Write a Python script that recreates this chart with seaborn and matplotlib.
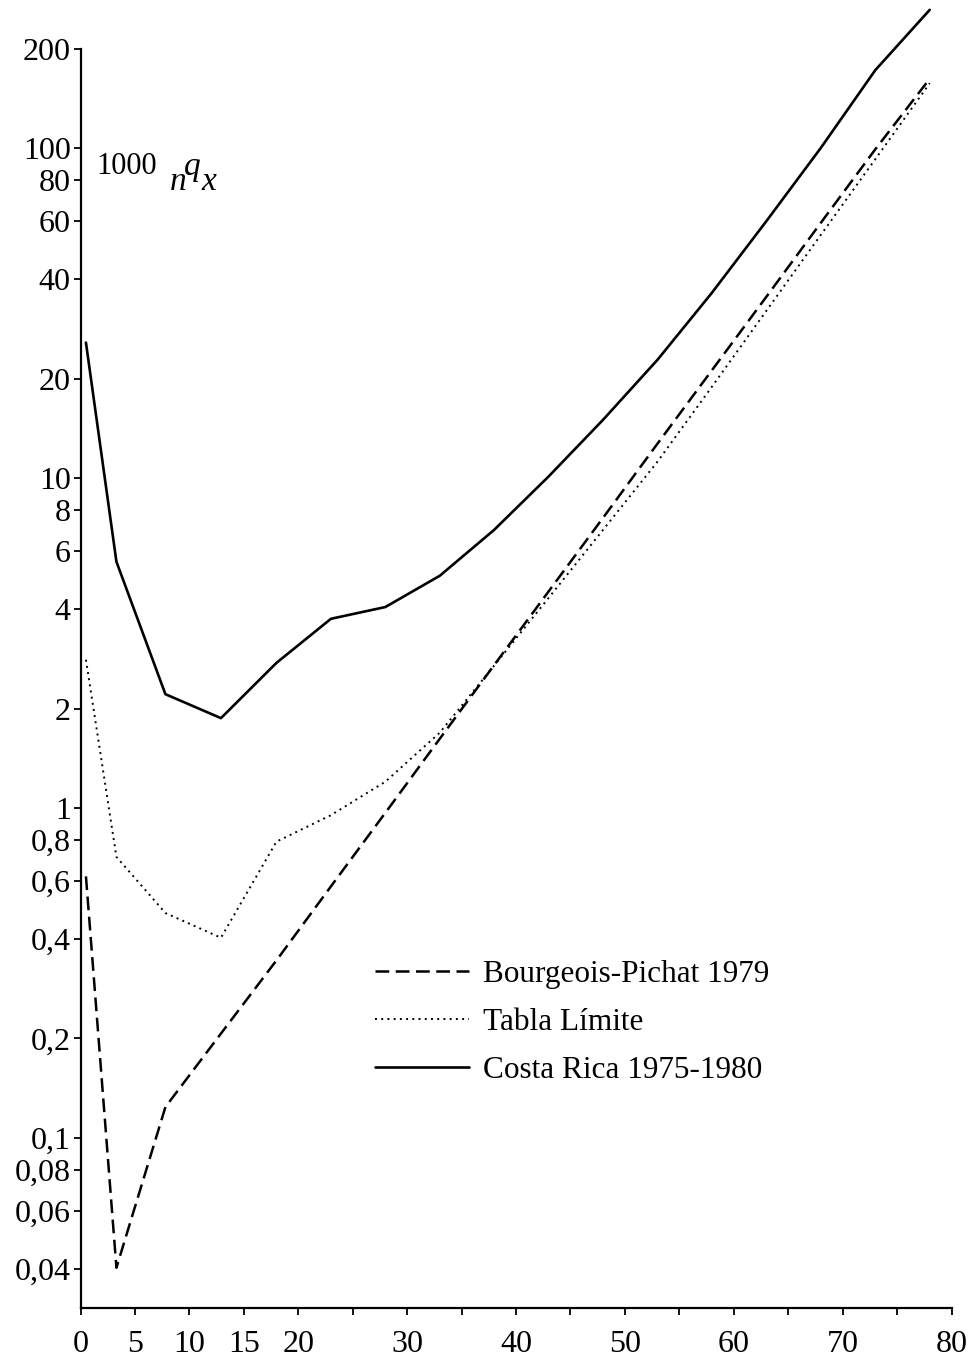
import pandas as pd
import matplotlib
matplotlib.use("Agg")
import matplotlib.pyplot as plt
from matplotlib.ticker import FixedLocator, NullLocator
import seaborn as sns

# Data (1000 nqx by age, log scale)
ages = [0.5, 3.3, 7.8, 12.9, 18, 23, 28, 33, 38, 43, 48, 53, 58, 63, 68, 73, 78]
bourgeois_pichat = [0.62, 0.0404, 0.124, 0.207, 0.345, 0.578, 0.966, 1.62, 2.71,
                    4.53, 7.57, 12.7, 21.2, 35.4, 59.3, 99, 162]
tabla_limite = [2.81, 0.71, 0.48, 0.404, 0.79, 0.95, 1.2, 1.69, 2.7,
                4.33, 6.96, 11.2, 18.9, 32.1, 54.5, 92.4, 157]
costa_rica = [25.7, 5.57, 2.21, 1.87, 2.75, 3.74, 4.06, 5.05, 6.96,
              10.1, 15.0, 22.8, 36.4, 60, 100, 172, 262]

series_names = ["Bourgeois-Pichat 1979", "Tabla Límite", "Costa Rica 1975-1980"]

x_ticks = list(range(0, 85, 5))
x_labels = ["0", "5", "10", "15", "20", "", "30", "", "40", "", "50", "",
            "60", "", "70", "", "80"]
y_ticks = [0.04, 0.06, 0.08, 0.1, 0.2, 0.4, 0.6, 0.8, 1, 2, 4, 6, 8, 10,
           20, 40, 60, 80, 100, 200]
y_labels = ["0,04", "0,06", "0,08", "0,1", "0,2", "0,4", "0,6", "0,8", "1",
            "2", "4", "6", "8", "10", "20", "40", "60", "80", "100", "200"]


def main():
    sns.set_style("ticks")
    plt.rcParams["font.family"] = ["Liberation Serif", "DejaVu Serif"]
    plt.rcParams["text.color"] = "black"

    W, H = 971, 1365
    fig = plt.figure(figsize=(W / 100, H / 100), dpi=100)
    ax = fig.add_axes([80.5 / W, 57 / H, 871 / W, 1303 / H])

    df = pd.DataFrame({"age": ages, "bp": bourgeois_pichat,
                       "tl": tabla_limite, "cr": costa_rica})

    sns.lineplot(data=df, x="age", y="bp", ax=ax, color="black", lw=1.8,
                 linestyle=(0, (5.5, 2.6)), label=series_names[0])
    sns.lineplot(data=df, x="age", y="tl", ax=ax, color="black", lw=1.4,
                 linestyle=(0, (1, 2.2)), label=series_names[1])
    sns.lineplot(data=df, x="age", y="cr", ax=ax, color="black", lw=1.9,
                 linestyle="-", label=series_names[2])

    ax.set_yscale("log")
    ax.set_xlim(0, 80)
    ax.set_ylim(0.0305, 271)

    ax.xaxis.set_major_locator(FixedLocator(x_ticks))
    ax.set_xticklabels(x_labels)
    ax.yaxis.set_major_locator(FixedLocator(y_ticks))
    ax.yaxis.set_minor_locator(NullLocator())
    ax.set_yticklabels(y_labels)
    ax.tick_params(axis="both", direction="out", length=5, width=1.3,
                   labelsize=23, color="black", labelcolor="black")
    ax.tick_params(axis="y", pad=2)
    ax.tick_params(axis="x", pad=11)

    ax.set_xlabel("")
    ax.set_ylabel("")
    sns.despine(ax=ax)
    ax.spines["left"].set_bounds(0.0305, 200)
    for s in ["left", "bottom"]:
        ax.spines[s].set_linewidth(1.6)
        ax.spines[s].set_color("black")

    # y axis label: 1000 nqx
    fig.text(96 / W, 1 - 174 / H, "1000", fontsize=22, va="baseline")
    fig.text(170 / W, 1 - 190 / H, "n", fontsize=24, style="italic", va="baseline")
    fig.text(184 / W, 1 - 175 / H, "q", fontsize=24, style="italic", va="baseline")
    fig.text(201 / W, 1 - 190 / H, "x", fontsize=24, style="italic", va="baseline")

    leg = ax.legend(loc="upper left", bbox_to_anchor=(375 / W, 1 - 960 / H),
                    bbox_transform=fig.transFigure, frameon=False, fontsize=22.5,
                    handlelength=3.0, handletextpad=0.45, labelspacing=0.6,
                    borderpad=0, borderaxespad=0)
    for t in leg.get_texts():
        t.set_color("black")

    fig.savefig("out.png", dpi=100, facecolor="white")


if __name__ == "__main__":
    main()
